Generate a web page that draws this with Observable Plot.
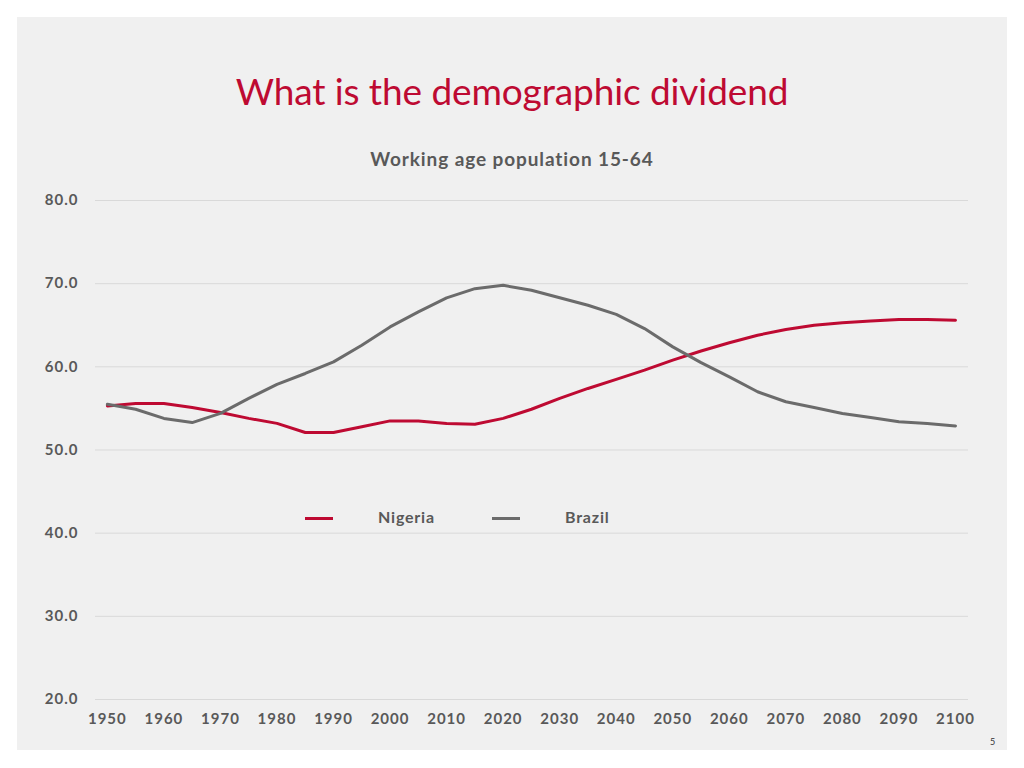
<!DOCTYPE html>
<html>
<head>
<meta charset="utf-8">
<script src="https://cdn.jsdelivr.net/npm/d3@7"></script>
<script src="https://cdn.jsdelivr.net/npm/@observablehq/plot@0.6"></script>
<style>
  html, body { margin: 0; padding: 0; background: #ffffff; }
  #page { position: relative; width: 1024px; height: 768px; overflow: hidden; font-family: Lato, "Open Sans", sans-serif; }
  #panel { position: absolute; left: 17px; top: 17px; width: 990px; height: 733px; background: #f0f0f0; }
  #title { position: absolute; left: 0; width: 1024px; top: 68px; text-align: center; font-size: 37px; color: #be0a32; font-weight: 400; letter-spacing: -0.1px; }
  #subtitle { position: absolute; left: 0; width: 1024px; top: 147px; text-align: center; font-size: 19px; font-weight: 700; color: #595959; letter-spacing: 0.9px; }
  #chart { position: absolute; left: 0; top: 180px; }
  .legend-item { position: absolute; top: 507px; font-size: 16px; font-weight: 700; color: #595959; letter-spacing: 0.8px; }
  .swatch { position: absolute; height: 3px; top: 517px; }
  #pagenum { position: absolute; left: 990px; top: 736px; font-size: 9px; color: #333; }
</style>
</head>
<body>
<div id="page">
  <div id="panel"></div>
  <div id="title">What is the demographic dividend</div>
  <div id="subtitle">Working age population 15-64</div>
  <div id="chart"></div>
  <div class="swatch" style="left:305px;width:28px;background:#be0a32"></div>
  <div class="legend-item" style="left:378px">Nigeria</div>
  <div class="swatch" style="left:492px;width:28px;background:#6b6b6b"></div>
  <div class="legend-item" style="left:565px">Brazil</div>
  <div id="pagenum">5</div>
</div>
<script>
const years = [1950,1955,1960,1965,1970,1975,1980,1985,1990,1995,2000,2005,2010,2015,2020,2025,2030,2035,2040,2045,2050,2055,2060,2065,2070,2075,2080,2085,2090,2095,2100];
const nigeria = [55.3,55.6,55.6,55.1,54.5,53.8,53.2,52.1,52.1,52.8,53.5,53.5,53.2,53.1,53.8,54.9,56.2,57.4,58.5,59.6,60.8,61.9,62.9,63.8,64.5,65.0,65.3,65.5,65.7,65.7,65.6];
const brazil = [55.5,54.9,53.8,53.3,54.4,56.2,57.9,59.2,60.6,62.6,64.8,66.6,68.3,69.4,69.8,69.2,68.3,67.4,66.3,64.6,62.4,60.5,58.8,57.0,55.8,55.1,54.4,53.9,53.4,53.2,52.9];
const seriesNames = ["Nigeria", "Brazil"];
const seriesColors = ["#be0a32", "#6b6b6b"];
const yTicks = [20,30,40,50,60,70,80];
const xTicks = [1950,1960,1970,1980,1990,2000,2010,2020,2030,2040,2050,2060,2070,2080,2090,2100];

const rows = [];
years.forEach((yr, i) => {
  rows.push({year: yr, value: nigeria[i], series: seriesNames[0]});
  rows.push({year: yr, value: brazil[i], series: seriesNames[1]});
});

const chart = Plot.plot({
  width: 1024,
  height: 560,
  marginLeft: 95,
  marginRight: 56,
  marginTop: 20,
  marginBottom: 41,
  style: {background: "transparent", fontFamily: "Lato, 'Open Sans', sans-serif", color: "#595959", overflow: "visible", letterSpacing: "1px"},
  x: {domain: [1947.9, 2102.3], ticks: xTicks, tickFormat: d => String(d), label: null},
  y: {domain: [20, 80], ticks: yTicks, tickFormat: d => d.toFixed(1), label: null},
  color: {domain: seriesNames, range: seriesColors},
  marks: [
    Plot.ruleY(yTicks, {stroke: "#d9d9d9", strokeWidth: 1}),
    Plot.axisX({ticks: xTicks, tickSize: 0, tickPadding: 14, fontSize: 15, fontWeight: 700, fill: "#595959", tickFormat: d => String(d), label: null}),
    Plot.axisY({ticks: yTicks, tickSize: 0, tickPadding: 17, fontSize: 15, fontWeight: 700, fill: "#595959", tickFormat: d => d.toFixed(1), label: null}),
    Plot.line(rows, {x: "year", y: "value", z: "series", stroke: "series", strokeWidth: 3, curve: "linear", strokeLinejoin: "round"})
  ]
});
document.getElementById("chart").appendChild(chart);
</script>
</body>
</html>
